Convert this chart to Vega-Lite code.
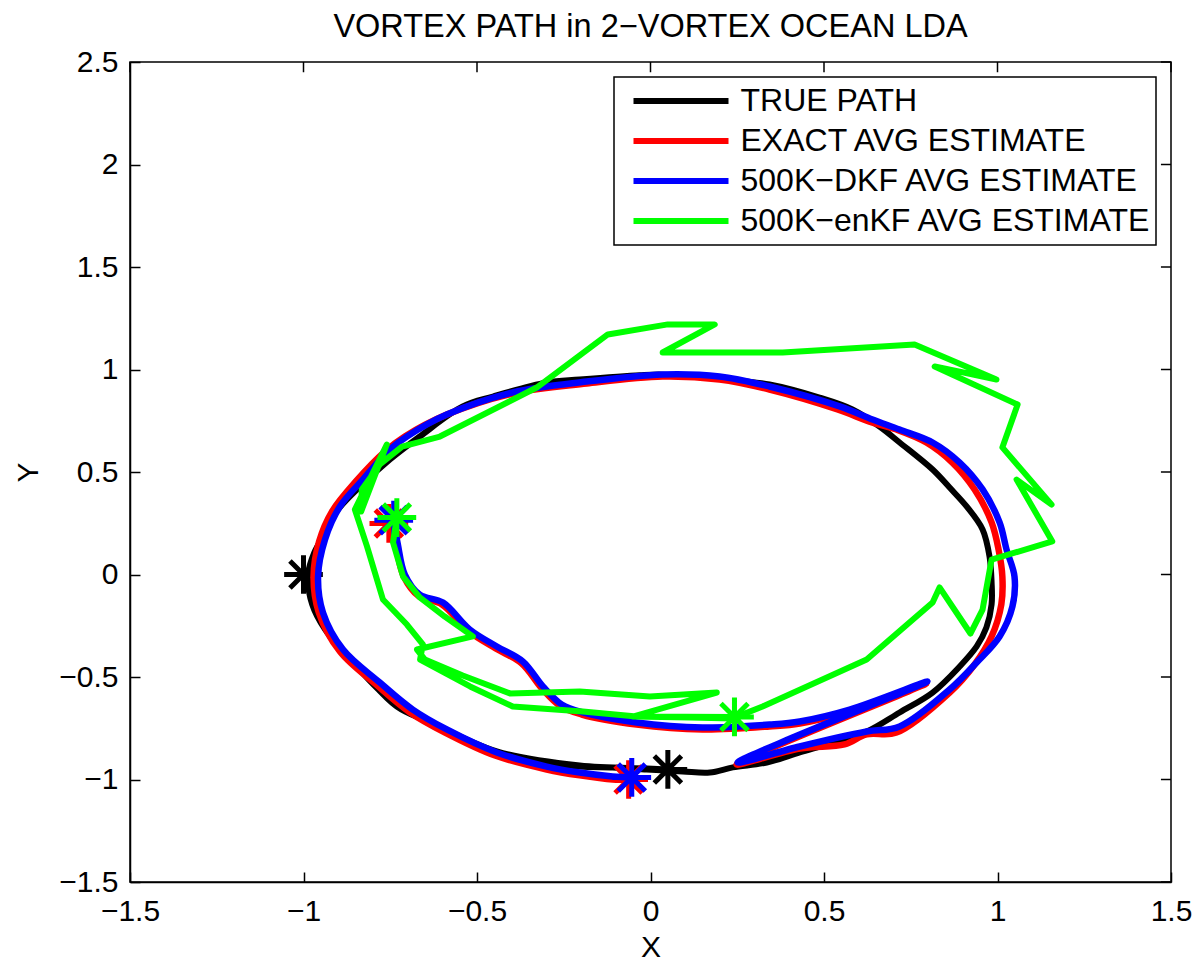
{
  "$schema": "https://vega.github.io/schema/vega-lite/v6.json",
  "width": 1041,
  "height": 820,
  "autosize": "none",
  "padding": {"left": 130, "top": 62, "right": 26, "bottom": 80},
  "background": "white",
  "title": {
    "text": "VORTEX PATH in 2−VORTEX OCEAN LDA",
    "font": "Liberation Sans",
    "fontSize": 32.5,
    "fontWeight": "normal",
    "color": "black",
    "anchor": "middle",
    "offset": 4
  },
  "datasets": {
    "paths": [
      {"s": "TRUE PATH", "i": 0, "x": -1.0, "y": 0.0},
      {"s": "TRUE PATH", "i": 1, "x": -0.973, "y": -0.122},
      {"s": "TRUE PATH", "i": 2, "x": -0.924, "y": -0.302},
      {"s": "TRUE PATH", "i": 3, "x": -0.829, "y": -0.478},
      {"s": "TRUE PATH", "i": 4, "x": -0.731, "y": -0.644},
      {"s": "TRUE PATH", "i": 5, "x": -0.636, "y": -0.722},
      {"s": "TRUE PATH", "i": 6, "x": -0.535, "y": -0.805},
      {"s": "TRUE PATH", "i": 7, "x": -0.443, "y": -0.868},
      {"s": "TRUE PATH", "i": 8, "x": -0.319, "y": -0.912},
      {"s": "TRUE PATH", "i": 9, "x": -0.204, "y": -0.937},
      {"s": "TRUE PATH", "i": 10, "x": -0.109, "y": -0.941},
      {"s": "TRUE PATH", "i": 11, "x": -0.011, "y": -0.951},
      {"s": "TRUE PATH", "i": 12, "x": 0.093, "y": -0.961},
      {"s": "TRUE PATH", "i": 13, "x": 0.171, "y": -0.966},
      {"s": "TRUE PATH", "i": 14, "x": 0.237, "y": -0.941},
      {"s": "TRUE PATH", "i": 15, "x": 0.335, "y": -0.917},
      {"s": "TRUE PATH", "i": 16, "x": 0.43, "y": -0.868},
      {"s": "TRUE PATH", "i": 17, "x": 0.525, "y": -0.82},
      {"s": "TRUE PATH", "i": 18, "x": 0.623, "y": -0.766},
      {"s": "TRUE PATH", "i": 19, "x": 0.718, "y": -0.673},
      {"s": "TRUE PATH", "i": 20, "x": 0.813, "y": -0.576},
      {"s": "TRUE PATH", "i": 21, "x": 0.891, "y": -0.449},
      {"s": "TRUE PATH", "i": 22, "x": 0.94, "y": -0.351},
      {"s": "TRUE PATH", "i": 23, "x": 0.968, "y": -0.259},
      {"s": "TRUE PATH", "i": 24, "x": 0.983, "y": -0.146},
      {"s": "TRUE PATH", "i": 25, "x": 0.983, "y": -0.039},
      {"s": "TRUE PATH", "i": 26, "x": 0.977, "y": 0.088},
      {"s": "TRUE PATH", "i": 27, "x": 0.957, "y": 0.22},
      {"s": "TRUE PATH", "i": 28, "x": 0.911, "y": 0.332},
      {"s": "TRUE PATH", "i": 29, "x": 0.862, "y": 0.424},
      {"s": "TRUE PATH", "i": 30, "x": 0.813, "y": 0.512},
      {"s": "TRUE PATH", "i": 31, "x": 0.718, "y": 0.644},
      {"s": "TRUE PATH", "i": 32, "x": 0.66, "y": 0.722},
      {"s": "TRUE PATH", "i": 33, "x": 0.582, "y": 0.805},
      {"s": "TRUE PATH", "i": 34, "x": 0.487, "y": 0.863},
      {"s": "TRUE PATH", "i": 35, "x": 0.343, "y": 0.927},
      {"s": "TRUE PATH", "i": 36, "x": 0.199, "y": 0.955},
      {"s": "TRUE PATH", "i": 37, "x": 0.035, "y": 0.975},
      {"s": "TRUE PATH", "i": 38, "x": -0.031, "y": 0.972},
      {"s": "TRUE PATH", "i": 39, "x": -0.204, "y": 0.951},
      {"s": "TRUE PATH", "i": 40, "x": -0.299, "y": 0.937},
      {"s": "TRUE PATH", "i": 41, "x": -0.454, "y": 0.868},
      {"s": "TRUE PATH", "i": 42, "x": -0.541, "y": 0.82},
      {"s": "TRUE PATH", "i": 43, "x": -0.665, "y": 0.673},
      {"s": "TRUE PATH", "i": 44, "x": -0.751, "y": 0.561},
      {"s": "TRUE PATH", "i": 45, "x": -0.837, "y": 0.429},
      {"s": "TRUE PATH", "i": 46, "x": -0.905, "y": 0.307},
      {"s": "TRUE PATH", "i": 47, "x": -0.94, "y": 0.195},
      {"s": "TRUE PATH", "i": 48, "x": -0.969, "y": 0.107},
      {"s": "TRUE PATH", "i": 49, "x": -0.987, "y": 0.0},
      {"s": "TRUE PATH", "i": 50, "x": -0.975, "y": -0.146},
      {"s": "TRUE PATH", "i": 51, "x": -0.938, "y": -0.268},
      {"s": "TRUE PATH", "i": 52, "x": -0.852, "y": -0.439},
      {"s": "TRUE PATH", "i": 53, "x": -0.751, "y": -0.61},
      {"s": "TRUE PATH", "i": 54, "x": -0.636, "y": -0.717},
      {"s": "TRUE PATH", "i": 55, "x": -0.443, "y": -0.863},
      {"s": "TRUE PATH", "i": 56, "x": -0.204, "y": -0.932},
      {"s": "TRUE PATH", "i": 57, "x": -0.011, "y": -0.946},
      {"s": "TRUE PATH", "i": 58, "x": 0.05, "y": -0.951},

      {"s": "EXACT AVG ESTIMATE", "i": 0, "x": -0.754, "y": 0.249},
      {"s": "EXACT AVG ESTIMATE", "i": 1, "x": -0.734, "y": 0.137},
      {"s": "EXACT AVG ESTIMATE", "i": 2, "x": -0.711, "y": -0.01},
      {"s": "EXACT AVG ESTIMATE", "i": 3, "x": -0.667, "y": -0.107},
      {"s": "EXACT AVG ESTIMATE", "i": 4, "x": -0.601, "y": -0.146},
      {"s": "EXACT AVG ESTIMATE", "i": 5, "x": -0.523, "y": -0.278},
      {"s": "EXACT AVG ESTIMATE", "i": 6, "x": -0.446, "y": -0.361},
      {"s": "EXACT AVG ESTIMATE", "i": 7, "x": -0.371, "y": -0.434},
      {"s": "EXACT AVG ESTIMATE", "i": 8, "x": -0.313, "y": -0.556},
      {"s": "EXACT AVG ESTIMATE", "i": 9, "x": -0.258, "y": -0.644},
      {"s": "EXACT AVG ESTIMATE", "i": 10, "x": -0.198, "y": -0.683},
      {"s": "EXACT AVG ESTIMATE", "i": 11, "x": -0.04, "y": -0.732},
      {"s": "EXACT AVG ESTIMATE", "i": 12, "x": 0.15, "y": -0.756},
      {"s": "EXACT AVG ESTIMATE", "i": 13, "x": 0.343, "y": -0.741},
      {"s": "EXACT AVG ESTIMATE", "i": 14, "x": 0.43, "y": -0.727},
      {"s": "EXACT AVG ESTIMATE", "i": 15, "x": 0.574, "y": -0.668},
      {"s": "EXACT AVG ESTIMATE", "i": 16, "x": 0.795, "y": -0.532},
      {"s": "EXACT AVG ESTIMATE", "i": 17, "x": 0.248, "y": -0.927},
      {"s": "EXACT AVG ESTIMATE", "i": 18, "x": 0.43, "y": -0.849},
      {"s": "EXACT AVG ESTIMATE", "i": 19, "x": 0.559, "y": -0.829},
      {"s": "EXACT AVG ESTIMATE", "i": 20, "x": 0.623, "y": -0.78},
      {"s": "EXACT AVG ESTIMATE", "i": 21, "x": 0.709, "y": -0.771},
      {"s": "EXACT AVG ESTIMATE", "i": 22, "x": 0.862, "y": -0.576},
      {"s": "EXACT AVG ESTIMATE", "i": 23, "x": 0.934, "y": -0.439},
      {"s": "EXACT AVG ESTIMATE", "i": 24, "x": 0.983, "y": -0.302},
      {"s": "EXACT AVG ESTIMATE", "i": 25, "x": 1.011, "y": -0.146},
      {"s": "EXACT AVG ESTIMATE", "i": 26, "x": 1.014, "y": -0.01},
      {"s": "EXACT AVG ESTIMATE", "i": 27, "x": 1.003, "y": 0.122},
      {"s": "EXACT AVG ESTIMATE", "i": 28, "x": 0.983, "y": 0.254},
      {"s": "EXACT AVG ESTIMATE", "i": 29, "x": 0.934, "y": 0.415},
      {"s": "EXACT AVG ESTIMATE", "i": 30, "x": 0.87, "y": 0.546},
      {"s": "EXACT AVG ESTIMATE", "i": 31, "x": 0.795, "y": 0.644},
      {"s": "EXACT AVG ESTIMATE", "i": 32, "x": 0.709, "y": 0.707},
      {"s": "EXACT AVG ESTIMATE", "i": 33, "x": 0.631, "y": 0.746},
      {"s": "EXACT AVG ESTIMATE", "i": 34, "x": 0.539, "y": 0.805},
      {"s": "EXACT AVG ESTIMATE", "i": 35, "x": 0.343, "y": 0.902},
      {"s": "EXACT AVG ESTIMATE", "i": 36, "x": 0.199, "y": 0.951},
      {"s": "EXACT AVG ESTIMATE", "i": 37, "x": 0.035, "y": 0.966},
      {"s": "EXACT AVG ESTIMATE", "i": 38, "x": -0.184, "y": 0.932},
      {"s": "EXACT AVG ESTIMATE", "i": 39, "x": -0.397, "y": 0.883},
      {"s": "EXACT AVG ESTIMATE", "i": 40, "x": -0.587, "y": 0.78},
      {"s": "EXACT AVG ESTIMATE", "i": 41, "x": -0.708, "y": 0.673},
      {"s": "EXACT AVG ESTIMATE", "i": 42, "x": -0.765, "y": 0.6},
      {"s": "EXACT AVG ESTIMATE", "i": 43, "x": -0.848, "y": 0.456},
      {"s": "EXACT AVG ESTIMATE", "i": 44, "x": -0.918, "y": 0.307},
      {"s": "EXACT AVG ESTIMATE", "i": 45, "x": -0.955, "y": 0.161},
      {"s": "EXACT AVG ESTIMATE", "i": 46, "x": -0.971, "y": -0.01},
      {"s": "EXACT AVG ESTIMATE", "i": 47, "x": -0.956, "y": -0.185},
      {"s": "EXACT AVG ESTIMATE", "i": 48, "x": -0.895, "y": -0.376},
      {"s": "EXACT AVG ESTIMATE", "i": 49, "x": -0.788, "y": -0.541},
      {"s": "EXACT AVG ESTIMATE", "i": 50, "x": -0.693, "y": -0.673},
      {"s": "EXACT AVG ESTIMATE", "i": 51, "x": -0.592, "y": -0.771},
      {"s": "EXACT AVG ESTIMATE", "i": 52, "x": -0.448, "y": -0.883},
      {"s": "EXACT AVG ESTIMATE", "i": 53, "x": -0.299, "y": -0.951},
      {"s": "EXACT AVG ESTIMATE", "i": 54, "x": -0.204, "y": -0.98},
      {"s": "EXACT AVG ESTIMATE", "i": 55, "x": -0.109, "y": -1.0},
      {"s": "EXACT AVG ESTIMATE", "i": 56, "x": -0.063, "y": -1.0},

      {"s": "500K−DKF AVG ESTIMATE", "i": 0, "x": -0.74, "y": 0.265},
      {"s": "500K−DKF AVG ESTIMATE", "i": 1, "x": -0.728, "y": 0.146},
      {"s": "500K−DKF AVG ESTIMATE", "i": 2, "x": -0.708, "y": 0.0},
      {"s": "500K−DKF AVG ESTIMATE", "i": 3, "x": -0.665, "y": -0.098},
      {"s": "500K−DKF AVG ESTIMATE", "i": 4, "x": -0.598, "y": -0.137},
      {"s": "500K−DKF AVG ESTIMATE", "i": 5, "x": -0.521, "y": -0.268},
      {"s": "500K−DKF AVG ESTIMATE", "i": 6, "x": -0.443, "y": -0.351},
      {"s": "500K−DKF AVG ESTIMATE", "i": 7, "x": -0.368, "y": -0.424},
      {"s": "500K−DKF AVG ESTIMATE", "i": 8, "x": -0.31, "y": -0.546},
      {"s": "500K−DKF AVG ESTIMATE", "i": 9, "x": -0.256, "y": -0.634},
      {"s": "500K−DKF AVG ESTIMATE", "i": 10, "x": -0.195, "y": -0.673},
      {"s": "500K−DKF AVG ESTIMATE", "i": 11, "x": -0.04, "y": -0.722},
      {"s": "500K−DKF AVG ESTIMATE", "i": 12, "x": 0.15, "y": -0.746},
      {"s": "500K−DKF AVG ESTIMATE", "i": 13, "x": 0.343, "y": -0.732},
      {"s": "500K−DKF AVG ESTIMATE", "i": 14, "x": 0.43, "y": -0.717},
      {"s": "500K−DKF AVG ESTIMATE", "i": 15, "x": 0.574, "y": -0.659},
      {"s": "500K−DKF AVG ESTIMATE", "i": 16, "x": 0.798, "y": -0.522},
      {"s": "500K−DKF AVG ESTIMATE", "i": 17, "x": 0.251, "y": -0.917},
      {"s": "500K−DKF AVG ESTIMATE", "i": 18, "x": 0.43, "y": -0.839},
      {"s": "500K−DKF AVG ESTIMATE", "i": 19, "x": 0.623, "y": -0.766},
      {"s": "500K−DKF AVG ESTIMATE", "i": 20, "x": 0.718, "y": -0.741},
      {"s": "500K−DKF AVG ESTIMATE", "i": 21, "x": 0.862, "y": -0.561},
      {"s": "500K−DKF AVG ESTIMATE", "i": 22, "x": 0.94, "y": -0.429},
      {"s": "500K−DKF AVG ESTIMATE", "i": 23, "x": 1.006, "y": -0.302},
      {"s": "500K−DKF AVG ESTIMATE", "i": 24, "x": 1.043, "y": -0.156},
      {"s": "500K−DKF AVG ESTIMATE", "i": 25, "x": 1.049, "y": -0.01},
      {"s": "500K−DKF AVG ESTIMATE", "i": 26, "x": 1.026, "y": 0.122},
      {"s": "500K−DKF AVG ESTIMATE", "i": 27, "x": 1.006, "y": 0.254},
      {"s": "500K−DKF AVG ESTIMATE", "i": 28, "x": 0.957, "y": 0.415},
      {"s": "500K−DKF AVG ESTIMATE", "i": 29, "x": 0.891, "y": 0.546},
      {"s": "500K−DKF AVG ESTIMATE", "i": 30, "x": 0.813, "y": 0.644},
      {"s": "500K−DKF AVG ESTIMATE", "i": 31, "x": 0.718, "y": 0.707},
      {"s": "500K−DKF AVG ESTIMATE", "i": 32, "x": 0.64, "y": 0.756},
      {"s": "500K−DKF AVG ESTIMATE", "i": 33, "x": 0.545, "y": 0.82},
      {"s": "500K−DKF AVG ESTIMATE", "i": 34, "x": 0.343, "y": 0.917},
      {"s": "500K−DKF AVG ESTIMATE", "i": 35, "x": 0.199, "y": 0.966},
      {"s": "500K−DKF AVG ESTIMATE", "i": 36, "x": 0.035, "y": 0.976},
      {"s": "500K−DKF AVG ESTIMATE", "i": 37, "x": -0.184, "y": 0.941},
      {"s": "500K−DKF AVG ESTIMATE", "i": 38, "x": -0.397, "y": 0.888},
      {"s": "500K−DKF AVG ESTIMATE", "i": 39, "x": -0.587, "y": 0.78},
      {"s": "500K−DKF AVG ESTIMATE", "i": 40, "x": -0.702, "y": 0.673},
      {"s": "500K−DKF AVG ESTIMATE", "i": 41, "x": -0.751, "y": 0.61},
      {"s": "500K−DKF AVG ESTIMATE", "i": 42, "x": -0.829, "y": 0.463},
      {"s": "500K−DKF AVG ESTIMATE", "i": 43, "x": -0.895, "y": 0.332},
      {"s": "500K−DKF AVG ESTIMATE", "i": 44, "x": -0.938, "y": 0.171},
      {"s": "500K−DKF AVG ESTIMATE", "i": 45, "x": -0.958, "y": -0.01},
      {"s": "500K−DKF AVG ESTIMATE", "i": 46, "x": -0.944, "y": -0.185},
      {"s": "500K−DKF AVG ESTIMATE", "i": 47, "x": -0.886, "y": -0.366},
      {"s": "500K−DKF AVG ESTIMATE", "i": 48, "x": -0.78, "y": -0.527},
      {"s": "500K−DKF AVG ESTIMATE", "i": 49, "x": -0.685, "y": -0.659},
      {"s": "500K−DKF AVG ESTIMATE", "i": 50, "x": -0.587, "y": -0.756},
      {"s": "500K−DKF AVG ESTIMATE", "i": 51, "x": -0.443, "y": -0.868},
      {"s": "500K−DKF AVG ESTIMATE", "i": 52, "x": -0.299, "y": -0.937},
      {"s": "500K−DKF AVG ESTIMATE", "i": 53, "x": -0.204, "y": -0.966},
      {"s": "500K−DKF AVG ESTIMATE", "i": 54, "x": -0.109, "y": -0.985},
      {"s": "500K−DKF AVG ESTIMATE", "i": 55, "x": -0.054, "y": -0.99},

      {"s": "500K−enKF AVG ESTIMATE", "i": 0, "x": -0.731, "y": 0.278},
      {"s": "500K−enKF AVG ESTIMATE", "i": 1, "x": -0.742, "y": 0.156},
      {"s": "500K−enKF AVG ESTIMATE", "i": 2, "x": -0.713, "y": -0.01},
      {"s": "500K−enKF AVG ESTIMATE", "i": 3, "x": -0.665, "y": -0.112},
      {"s": "500K−enKF AVG ESTIMATE", "i": 4, "x": -0.593, "y": -0.205},
      {"s": "500K−enKF AVG ESTIMATE", "i": 5, "x": -0.512, "y": -0.302},
      {"s": "500K−enKF AVG ESTIMATE", "i": 6, "x": -0.673, "y": -0.366},
      {"s": "500K−enKF AVG ESTIMATE", "i": 7, "x": -0.65, "y": -0.415},
      {"s": "500K−enKF AVG ESTIMATE", "i": 8, "x": -0.541, "y": -0.493},
      {"s": "500K−enKF AVG ESTIMATE", "i": 9, "x": -0.405, "y": -0.58},
      {"s": "500K−enKF AVG ESTIMATE", "i": 10, "x": -0.204, "y": -0.571},
      {"s": "500K−enKF AVG ESTIMATE", "i": 11, "x": -0.002, "y": -0.595},
      {"s": "500K−enKF AVG ESTIMATE", "i": 12, "x": 0.191, "y": -0.576},
      {"s": "500K−enKF AVG ESTIMATE", "i": 13, "x": -0.051, "y": -0.693},
      {"s": "500K−enKF AVG ESTIMATE", "i": 14, "x": 0.113, "y": -0.698},
      {"s": "500K−enKF AVG ESTIMATE", "i": 15, "x": 0.237, "y": -0.702},
      {"s": "500K−enKF AVG ESTIMATE", "i": 16, "x": 0.323, "y": -0.644},
      {"s": "500K−enKF AVG ESTIMATE", "i": 17, "x": 0.623, "y": -0.415},
      {"s": "500K−enKF AVG ESTIMATE", "i": 18, "x": 0.813, "y": -0.137},
      {"s": "500K−enKF AVG ESTIMATE", "i": 19, "x": 0.833, "y": -0.063},
      {"s": "500K−enKF AVG ESTIMATE", "i": 20, "x": 0.922, "y": -0.288},
      {"s": "500K−enKF AVG ESTIMATE", "i": 21, "x": 0.957, "y": -0.171},
      {"s": "500K−enKF AVG ESTIMATE", "i": 22, "x": 0.983, "y": 0.073},
      {"s": "500K−enKF AVG ESTIMATE", "i": 23, "x": 1.158, "y": 0.161},
      {"s": "500K−enKF AVG ESTIMATE", "i": 24, "x": 1.055, "y": 0.463},
      {"s": "500K−enKF AVG ESTIMATE", "i": 25, "x": 1.156, "y": 0.341},
      {"s": "500K−enKF AVG ESTIMATE", "i": 26, "x": 1.014, "y": 0.62},
      {"s": "500K−enKF AVG ESTIMATE", "i": 27, "x": 1.058, "y": 0.829},
      {"s": "500K−enKF AVG ESTIMATE", "i": 28, "x": 0.819, "y": 1.015},
      {"s": "500K−enKF AVG ESTIMATE", "i": 29, "x": 0.997, "y": 0.951},
      {"s": "500K−enKF AVG ESTIMATE", "i": 30, "x": 0.761, "y": 1.122},
      {"s": "500K−enKF AVG ESTIMATE", "i": 31, "x": 0.381, "y": 1.083},
      {"s": "500K−enKF AVG ESTIMATE", "i": 32, "x": 0.035, "y": 1.083},
      {"s": "500K−enKF AVG ESTIMATE", "i": 33, "x": 0.185, "y": 1.22},
      {"s": "500K−enKF AVG ESTIMATE", "i": 34, "x": 0.05, "y": 1.22},
      {"s": "500K−enKF AVG ESTIMATE", "i": 35, "x": -0.123, "y": 1.171},
      {"s": "500K−enKF AVG ESTIMATE", "i": 36, "x": -0.328, "y": 0.912},
      {"s": "500K−enKF AVG ESTIMATE", "i": 37, "x": -0.607, "y": 0.673},
      {"s": "500K−enKF AVG ESTIMATE", "i": 38, "x": -0.716, "y": 0.624},
      {"s": "500K−enKF AVG ESTIMATE", "i": 39, "x": -0.78, "y": 0.537},
      {"s": "500K−enKF AVG ESTIMATE", "i": 40, "x": -0.832, "y": 0.415},
      {"s": "500K−enKF AVG ESTIMATE", "i": 41, "x": -0.834, "y": 0.307},
      {"s": "500K−enKF AVG ESTIMATE", "i": 42, "x": -0.76, "y": 0.634},
      {"s": "500K−enKF AVG ESTIMATE", "i": 43, "x": -0.852, "y": 0.317},
      {"s": "500K−enKF AVG ESTIMATE", "i": 44, "x": -0.817, "y": 0.137},
      {"s": "500K−enKF AVG ESTIMATE", "i": 45, "x": -0.771, "y": -0.122},
      {"s": "500K−enKF AVG ESTIMATE", "i": 46, "x": -0.702, "y": -0.244},
      {"s": "500K−enKF AVG ESTIMATE", "i": 47, "x": -0.656, "y": -0.341},
      {"s": "500K−enKF AVG ESTIMATE", "i": 48, "x": -0.664, "y": -0.415},
      {"s": "500K−enKF AVG ESTIMATE", "i": 49, "x": -0.52, "y": -0.546},
      {"s": "500K−enKF AVG ESTIMATE", "i": 50, "x": -0.397, "y": -0.644},
      {"s": "500K−enKF AVG ESTIMATE", "i": 51, "x": -0.195, "y": -0.668},
      {"s": "500K−enKF AVG ESTIMATE", "i": 52, "x": -0.04, "y": -0.693},
      {"s": "500K−enKF AVG ESTIMATE", "i": 53, "x": 0.242, "y": -0.695}
    ],
    "stars": [
      {"s": "TRUE PATH", "x": -1.0, "y": 0.0},
      {"s": "TRUE PATH", "x": 0.05, "y": -0.951},
      {"s": "EXACT AVG ESTIMATE", "x": -0.754, "y": 0.249},
      {"s": "EXACT AVG ESTIMATE", "x": -0.063, "y": -1.0},
      {"s": "500K−DKF AVG ESTIMATE", "x": -0.74, "y": 0.265},
      {"s": "500K−DKF AVG ESTIMATE", "x": -0.054, "y": -0.99},
      {"s": "500K−enKF AVG ESTIMATE", "x": -0.731, "y": 0.278},
      {"s": "500K−enKF AVG ESTIMATE", "x": 0.242, "y": -0.695}
    ],
    "xticks": [{"v": -1.5}, {"v": -1}, {"v": -0.5}, {"v": 0}, {"v": 0.5}, {"v": 1}, {"v": 1.5}],
    "yticks": [{"v": -1.5}, {"v": -1}, {"v": -0.5}, {"v": 0}, {"v": 0.5}, {"v": 1}, {"v": 1.5}, {"v": 2}, {"v": 2.5}]
  },
  "layer": [
    {
      "data": {"name": "paths"},
      "transform": [{"filter": "datum.s === 'TRUE PATH'"}],
      "mark": {"type": "line", "strokeWidth": 6, "strokeCap": "round", "strokeJoin": "round", "interpolate": "catmull-rom"},
      "encoding": {
        "x": {"field": "x", "type": "quantitative", "scale": {"domain": [-1.5, 1.5], "nice": false, "zero": false},
              "axis": {"orient": "bottom", "values": [-1.5, -1, -0.5, 0, 0.5, 1, 1.5], "format": "~g", "title": "X", "tickSize": -10, "labelPadding": 24, "titlePadding": 6}},
        "y": {"field": "y", "type": "quantitative", "scale": {"domain": [-1.5, 2.5], "nice": false, "zero": false},
              "axis": {"orient": "left", "values": [-1.5, -1, -0.5, 0, 0.5, 1, 1.5, 2, 2.5], "format": "~g", "title": "Y", "tickSize": -10, "labelPadding": 22, "titlePadding": 15}},
        "order": {"field": "i", "type": "quantitative"},
        "color": {"field": "s", "type": "nominal",
                  "scale": {"domain": ["TRUE PATH", "EXACT AVG ESTIMATE", "500K−DKF AVG ESTIMATE", "500K−enKF AVG ESTIMATE"], "range": ["#000000", "#ff0000", "#0000ff", "#00ff00"]},
                  "legend": {"orient": "none", "legendX": 484, "legendY": 15, "title": null, "direction": "vertical"}}
      }
    },
    {
      "data": {"name": "xticks"},
      "mark": {"type": "rule", "color": "#000000", "strokeWidth": 1.5},
      "encoding": {
        "x": {"field": "v", "type": "quantitative", "scale": {"domain": [-1.5, 1.5], "nice": false, "zero": false}},
        "y": {"datum": 2.5, "type": "quantitative", "scale": {"domain": [-1.5, 2.5], "nice": false, "zero": false}},
        "y2": {"datum": 2.45}
      }
    },
    {
      "data": {"name": "yticks"},
      "mark": {"type": "rule", "color": "#000000", "strokeWidth": 1.5},
      "encoding": {
        "y": {"field": "v", "type": "quantitative", "scale": {"domain": [-1.5, 2.5], "nice": false, "zero": false}},
        "x": {"datum": 1.5, "type": "quantitative", "scale": {"domain": [-1.5, 1.5], "nice": false, "zero": false}},
        "x2": {"datum": 1.471}
      }
    },
    {
      "data": {"name": "stars"},
      "transform": [{"filter": "datum.s === 'TRUE PATH'"}],
      "mark": {"type": "point", "shape": "M0,-1L0,1M-1,0L1,0M-0.7,-0.7L0.7,0.7M-0.7,0.7L0.7,-0.7", "filled": false, "size": 1500, "strokeWidth": 5, "opacity": 1},
      "encoding": {
        "x": {"field": "x", "type": "quantitative", "scale": {"domain": [-1.5, 1.5], "nice": false, "zero": false}},
        "y": {"field": "y", "type": "quantitative", "scale": {"domain": [-1.5, 2.5], "nice": false, "zero": false}},
        "stroke": {"field": "s", "type": "nominal", "legend": null,
                   "scale": {"domain": ["TRUE PATH", "EXACT AVG ESTIMATE", "500K−DKF AVG ESTIMATE", "500K−enKF AVG ESTIMATE"], "range": ["#000000", "#ff0000", "#0000ff", "#00ff00"]}}
      }
    },
    {
      "data": {"name": "paths"},
      "transform": [{"filter": "datum.s === 'EXACT AVG ESTIMATE'"}],
      "mark": {"type": "line", "strokeWidth": 6.5, "strokeCap": "round", "strokeJoin": "round", "interpolate": "catmull-rom"},
      "encoding": {
        "x": {"field": "x", "type": "quantitative", "scale": {"domain": [-1.5, 1.5], "nice": false, "zero": false}},
        "y": {"field": "y", "type": "quantitative", "scale": {"domain": [-1.5, 2.5], "nice": false, "zero": false}},
        "order": {"field": "i", "type": "quantitative"},
        "color": {"field": "s", "type": "nominal",
                  "scale": {"domain": ["TRUE PATH", "EXACT AVG ESTIMATE", "500K−DKF AVG ESTIMATE", "500K−enKF AVG ESTIMATE"], "range": ["#000000", "#ff0000", "#0000ff", "#00ff00"]}}
      }
    },
    {
      "data": {"name": "stars"},
      "transform": [{"filter": "datum.s === 'EXACT AVG ESTIMATE'"}],
      "mark": {"type": "point", "shape": "M0,-1L0,1M-1,0L1,0M-0.7,-0.7L0.7,0.7M-0.7,0.7L0.7,-0.7", "filled": false, "size": 1500, "strokeWidth": 5, "opacity": 1},
      "encoding": {
        "x": {"field": "x", "type": "quantitative", "scale": {"domain": [-1.5, 1.5], "nice": false, "zero": false}},
        "y": {"field": "y", "type": "quantitative", "scale": {"domain": [-1.5, 2.5], "nice": false, "zero": false}},
        "stroke": {"field": "s", "type": "nominal", "legend": null,
                   "scale": {"domain": ["TRUE PATH", "EXACT AVG ESTIMATE", "500K−DKF AVG ESTIMATE", "500K−enKF AVG ESTIMATE"], "range": ["#000000", "#ff0000", "#0000ff", "#00ff00"]}}
      }
    },
    {
      "data": {"name": "paths"},
      "transform": [{"filter": "datum.s === '500K−DKF AVG ESTIMATE'"}],
      "mark": {"type": "line", "strokeWidth": 6.5, "strokeCap": "round", "strokeJoin": "round", "interpolate": "catmull-rom"},
      "encoding": {
        "x": {"field": "x", "type": "quantitative", "scale": {"domain": [-1.5, 1.5], "nice": false, "zero": false}},
        "y": {"field": "y", "type": "quantitative", "scale": {"domain": [-1.5, 2.5], "nice": false, "zero": false}},
        "order": {"field": "i", "type": "quantitative"},
        "color": {"field": "s", "type": "nominal",
                  "scale": {"domain": ["TRUE PATH", "EXACT AVG ESTIMATE", "500K−DKF AVG ESTIMATE", "500K−enKF AVG ESTIMATE"], "range": ["#000000", "#ff0000", "#0000ff", "#00ff00"]}}
      }
    },
    {
      "data": {"name": "stars"},
      "transform": [{"filter": "datum.s === '500K−DKF AVG ESTIMATE'"}],
      "mark": {"type": "point", "shape": "M0,-1L0,1M-1,0L1,0M-0.7,-0.7L0.7,0.7M-0.7,0.7L0.7,-0.7", "filled": false, "size": 1500, "strokeWidth": 5, "opacity": 1},
      "encoding": {
        "x": {"field": "x", "type": "quantitative", "scale": {"domain": [-1.5, 1.5], "nice": false, "zero": false}},
        "y": {"field": "y", "type": "quantitative", "scale": {"domain": [-1.5, 2.5], "nice": false, "zero": false}},
        "stroke": {"field": "s", "type": "nominal", "legend": null,
                   "scale": {"domain": ["TRUE PATH", "EXACT AVG ESTIMATE", "500K−DKF AVG ESTIMATE", "500K−enKF AVG ESTIMATE"], "range": ["#000000", "#ff0000", "#0000ff", "#00ff00"]}}
      }
    },
    {
      "data": {"name": "paths"},
      "transform": [{"filter": "datum.s === '500K−enKF AVG ESTIMATE'"}],
      "mark": {"type": "line", "strokeWidth": 6, "strokeCap": "round", "strokeJoin": "round"},
      "encoding": {
        "x": {"field": "x", "type": "quantitative", "scale": {"domain": [-1.5, 1.5], "nice": false, "zero": false}},
        "y": {"field": "y", "type": "quantitative", "scale": {"domain": [-1.5, 2.5], "nice": false, "zero": false}},
        "order": {"field": "i", "type": "quantitative"},
        "color": {"field": "s", "type": "nominal",
                  "scale": {"domain": ["TRUE PATH", "EXACT AVG ESTIMATE", "500K−DKF AVG ESTIMATE", "500K−enKF AVG ESTIMATE"], "range": ["#000000", "#ff0000", "#0000ff", "#00ff00"]}}
      }
    },
    {
      "data": {"name": "stars"},
      "transform": [{"filter": "datum.s === '500K−enKF AVG ESTIMATE'"}],
      "mark": {"type": "point", "shape": "M0,-1L0,1M-1,0L1,0M-0.7,-0.7L0.7,0.7M-0.7,0.7L0.7,-0.7", "filled": false, "size": 1500, "strokeWidth": 5, "opacity": 1},
      "encoding": {
        "x": {"field": "x", "type": "quantitative", "scale": {"domain": [-1.5, 1.5], "nice": false, "zero": false}},
        "y": {"field": "y", "type": "quantitative", "scale": {"domain": [-1.5, 2.5], "nice": false, "zero": false}},
        "stroke": {"field": "s", "type": "nominal", "legend": null,
                   "scale": {"domain": ["TRUE PATH", "EXACT AVG ESTIMATE", "500K−DKF AVG ESTIMATE", "500K−enKF AVG ESTIMATE"], "range": ["#000000", "#ff0000", "#0000ff", "#00ff00"]}}
      }
    }
  ],
  "config": {
    "view": {"stroke": "#000000", "strokeWidth": 1.5},
    "axis": {
      "grid": false,
      "domainColor": "#000000",
      "domainWidth": 1.5,
      "tickColor": "#000000",
      "tickWidth": 1.5,
      "labelFont": "Liberation Sans",
      "labelFontSize": 30,
      "labelColor": "#000000",
      "labelFlush": false,
      "labelOverlap": false,
      "titleFont": "Liberation Sans",
      "titleFontSize": 30,
      "titleFontWeight": "normal",
      "titleColor": "#000000"
    },
    "legend": {
      "symbolType": "stroke",
      "symbolSize": 9025,
      "symbolStrokeWidth": 6,
      "symbolOffset": 12.5,
      "clipHeight": 40,
      "rowPadding": 0,
      "padding": 4,
      "labelOffset": 9,
      "labelFont": "Liberation Sans",
      "labelFontSize": 32,
      "labelColor": "#000000",
      "labelLimit": 1000,
      "strokeColor": "#000000",
      "strokeWidth": 1.5,
      "fillColor": "#ffffff"
    }
  }
}
